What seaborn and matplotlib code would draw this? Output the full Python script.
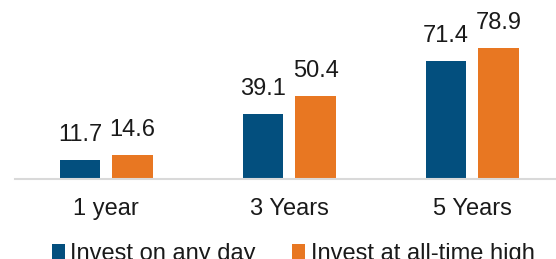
import matplotlib
matplotlib.use("Agg")
import matplotlib.pyplot as plt
import seaborn as sns
import pandas as pd
from matplotlib.patches import Patch

categories = ["1 year", "3 Years", "5 Years"]
series_names = ["Invest on any day", "Invest at all-time high"]
any_day = [11.7, 39.1, 71.4]
ath = [14.6, 50.4, 78.9]
colors = ["#034f7e", "#e87722"]

df = pd.DataFrame({
    "period": categories * 2,
    "series": [series_names[0]] * 3 + [series_names[1]] * 3,
    "value": any_day + ath,
})

sns.set_theme(style="white")
plt.rcParams["font.family"] = ["Liberation Sans", "DejaVu Sans"]
FS = 17

fig = plt.figure(figsize=(5.56, 2.59), dpi=100)
ax = fig.add_axes([14.8 / 556, 80 / 259, 1 - 14.8 / 556, 149 / 259])

sns.barplot(data=df, x="period", y="value", hue="series", order=categories,
            hue_order=series_names, palette=colors, width=0.574, gap=0.229,
            saturation=1, ax=ax, legend=False, edgecolor="none")

for cont in ax.containers:
    ax.bar_label(cont, fmt="%.1f", padding=10, fontsize=FS, color="#1a1a1a",
                 clip_on=False)

ax.set_xlim(-0.5, (556 - 106.3) / 183)
ax.set_ylim(0, 90)
ax.set_xlabel("")
ax.set_ylabel("")
ax.set_yticks([])
for s in ["top", "right", "left"]:
    ax.spines[s].set_visible(False)
ax.spines["bottom"].set_color("#d9d9d9")
ax.spines["bottom"].set_linewidth(1.5)
ax.tick_params(axis="x", length=0, pad=13.5, labelsize=FS, labelcolor="#1a1a1a")

handles = [Patch(facecolor=c, edgecolor="none") for c in colors]
fig.legend(handles, series_names, loc="lower center", bbox_to_anchor=(0.527, -0.105),
           ncol=2, frameon=False, fontsize=FS, handlelength=0.55, handleheight=0.55,
           handletextpad=0.25, columnspacing=1.51, labelcolor="#1a1a1a")

fig.savefig("out.png", dpi=100)
